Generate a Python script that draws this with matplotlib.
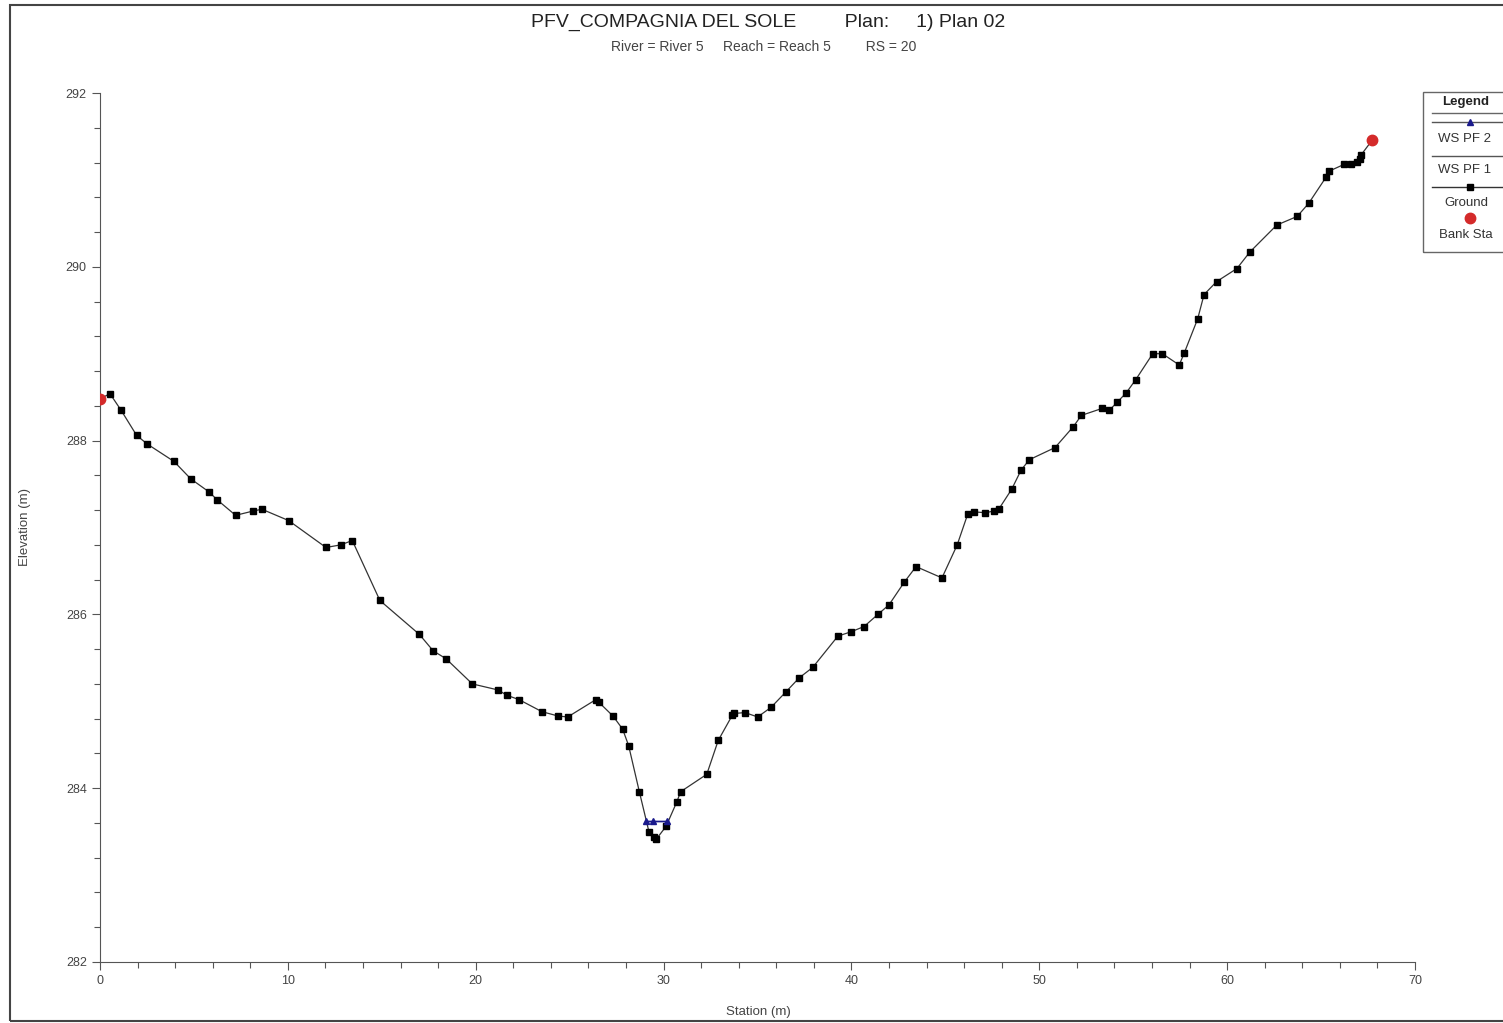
import matplotlib
matplotlib.use("Agg")
import matplotlib.pyplot as plt
from matplotlib.lines import Line2D
from matplotlib.patches import Rectangle
from matplotlib.ticker import MultipleLocator

plt.rcParams['font.family'] = ['Liberation Sans', 'DejaVu Sans']

# ground survey points (station m, elevation m)
ground_sta = [0.00, 0.53, 1.12, 1.95, 2.52, 3.94, 4.83, 5.80, 6.23, 7.22, 8.16, 8.62,
              10.04, 12.03, 12.81, 13.43, 14.90, 17.00, 17.74, 18.42, 19.82, 21.20,
              21.65, 22.30, 23.53, 24.40, 24.90, 26.40, 26.55, 27.31, 27.82, 28.14,
              28.71, 29.22, 29.49, 29.60, 30.13, 30.70, 30.91, 32.30, 32.91, 33.66,
              33.75, 34.33, 35.01, 35.72, 36.52, 37.22, 37.94, 39.28, 39.98, 40.67,
              41.41, 42.00, 42.81, 43.44, 44.82, 45.63, 46.20, 46.52, 47.13, 47.59,
              47.84, 48.53, 49.03, 49.47, 50.84, 51.81, 52.24, 53.34, 53.73, 54.14,
              54.63, 55.13, 56.04, 56.55, 57.45, 57.72, 58.43, 58.77, 59.44, 60.52,
              61.21, 62.64, 63.73, 64.34, 65.26, 65.42, 66.24, 66.60, 66.91, 67.05,
              67.14, 67.73]
ground_elev = [288.48, 288.54, 288.35, 288.06, 287.96, 287.76, 287.56, 287.41, 287.32,
               287.14, 287.19, 287.21, 287.08, 286.77, 286.80, 286.85, 286.16, 285.77,
               285.58, 285.49, 285.20, 285.13, 285.07, 285.02, 284.88, 284.83, 284.82,
               285.02, 284.99, 284.83, 284.68, 284.49, 283.96, 283.50, 283.44, 283.41,
               283.56, 283.84, 283.96, 284.16, 284.55, 284.84, 284.86, 284.87, 284.82,
               284.93, 285.11, 285.27, 285.39, 285.75, 285.80, 285.86, 286.00, 286.11,
               286.37, 286.55, 286.42, 286.80, 287.16, 287.18, 287.17, 287.19, 287.21,
               287.44, 287.66, 287.78, 287.92, 288.16, 288.29, 288.37, 288.35, 288.44,
               288.55, 288.70, 289.00, 289.00, 288.87, 289.01, 289.40, 289.68, 289.83,
               289.98, 290.17, 290.48, 290.58, 290.73, 291.03, 291.10, 291.18, 291.18,
               291.21, 291.24, 291.29, 291.46]

bank_sta = [0.00, 67.73]
bank_elev = [288.48, 291.46]

ws_sta = [29.05, 29.45, 30.17]
ws_pf1 = [283.62, 283.62, 283.62]
ws_pf2 = [283.62, 283.62, 283.62]

fig = plt.figure(figsize=(15.03, 10.23), dpi=100)
W, H = 1503.0, 1023.0
ax = fig.add_axes([100 / W, 1 - 962 / H, 1315 / W, 869 / H])

ax.plot(ws_sta, ws_pf1, color='#1a1a8c', lw=1.0, zorder=3)
ax.plot(ws_sta, ws_pf2, color='#1a1a8c', lw=1.0, marker='^', ms=4, zorder=4)
ax.plot(ground_sta, ground_elev, color='#333333', lw=0.9, marker='s', ms=4.3,
        mfc='black', mec='black', zorder=2)
ax.plot(bank_sta, bank_elev, ls='none', marker='o', ms=7.5, color='#d42a2a', zorder=5)

ax.set_xlim(0, 70)
ax.set_ylim(282, 292)
ax.xaxis.set_major_locator(MultipleLocator(10))
ax.xaxis.set_minor_locator(MultipleLocator(2))
ax.yaxis.set_major_locator(MultipleLocator(2))
ax.yaxis.set_minor_locator(MultipleLocator(0.4))
ax.tick_params(which='major', length=6, width=0.8, color='#555555',
               labelcolor='#444444', labelsize=9)
ax.tick_params(which='minor', length=4, width=0.8, color='#555555')
for s in ['top', 'right']:
    ax.spines[s].set_visible(False)
for s in ['left', 'bottom']:
    ax.spines[s].set_color('#555555')

ax.set_xlabel('Station (m)', fontsize=9.5, color='#444444', va='center')
ax.set_ylabel('Elevation (m)', fontsize=9.5, color='#444444')
ax.xaxis.set_label_coords((758 - 100) / 1315, -(1012 - 962) / 869)
ax.yaxis.set_label_coords(-(100 - 31) / 1315, (962 - 527) / 869)

fig.text(768 / W, 1 - 22 / H, 'PFV_COMPAGNIA DEL SOLE         Plan:     1) Plan 02',
         ha='center', va='center', fontsize=14, color='#222222')
fig.text(764 / W, 1 - 47 / H, 'River = River 5     Reach = Reach 5         RS = 20',
         ha='center', va='center', fontsize=10, color='#444444')

# outer frame
fig.add_artist(Rectangle((10 / W, 1 - 1021 / H), 1.05, 1016 / H, transform=fig.transFigure,
                         fill=False, ec='#444444', lw=1.5, clip_on=False))

# legend box (cut at right image edge)
fig.add_artist(Rectangle((1423 / W, 1 - 252 / H), 0.06, 160 / H, transform=fig.transFigure,
                         fill=False, ec='#666666', lw=1.0, clip_on=False))

def fline(y, **kw):
    fig.add_artist(Line2D([1432 / W, 1.0], [1 - y / H, 1 - y / H],
                          transform=fig.transFigure, **kw))

fline(113, color='#666666', lw=1.0)
fline(122, color='#555555', lw=1.0)
fig.add_artist(Line2D([1470 / W], [1 - 122 / H], transform=fig.transFigure, ls='none',
                      marker='^', ms=4, color='#1a1a8c'))
fline(156, color='#555555', lw=1.0)
fline(187, color='#333333', lw=1.0)
fig.add_artist(Line2D([1470 / W], [1 - 187 / H], transform=fig.transFigure, ls='none',
                      marker='s', ms=4.3, color='black'))
fig.add_artist(Line2D([1470 / W], [1 - 218 / H], transform=fig.transFigure, ls='none',
                      marker='o', ms=7.5, color='#d42a2a'))

fig.text(1442 / W, 1 - 102 / H, 'Legend', fontsize=9.5, fontweight='bold', va='center',
         color='#222222')
fig.text(1438 / W, 1 - 139 / H, 'WS PF 2', fontsize=9.5, va='center', color='#333333')
fig.text(1438 / W, 1 - 170 / H, 'WS PF 1', fontsize=9.5, va='center', color='#333333')
fig.text(1444 / W, 1 - 203 / H, 'Ground', fontsize=9.5, va='center', color='#333333')
fig.text(1439 / W, 1 - 235 / H, 'Bank Sta', fontsize=9.5, va='center', color='#333333')

fig.savefig('out.png', dpi=100)
